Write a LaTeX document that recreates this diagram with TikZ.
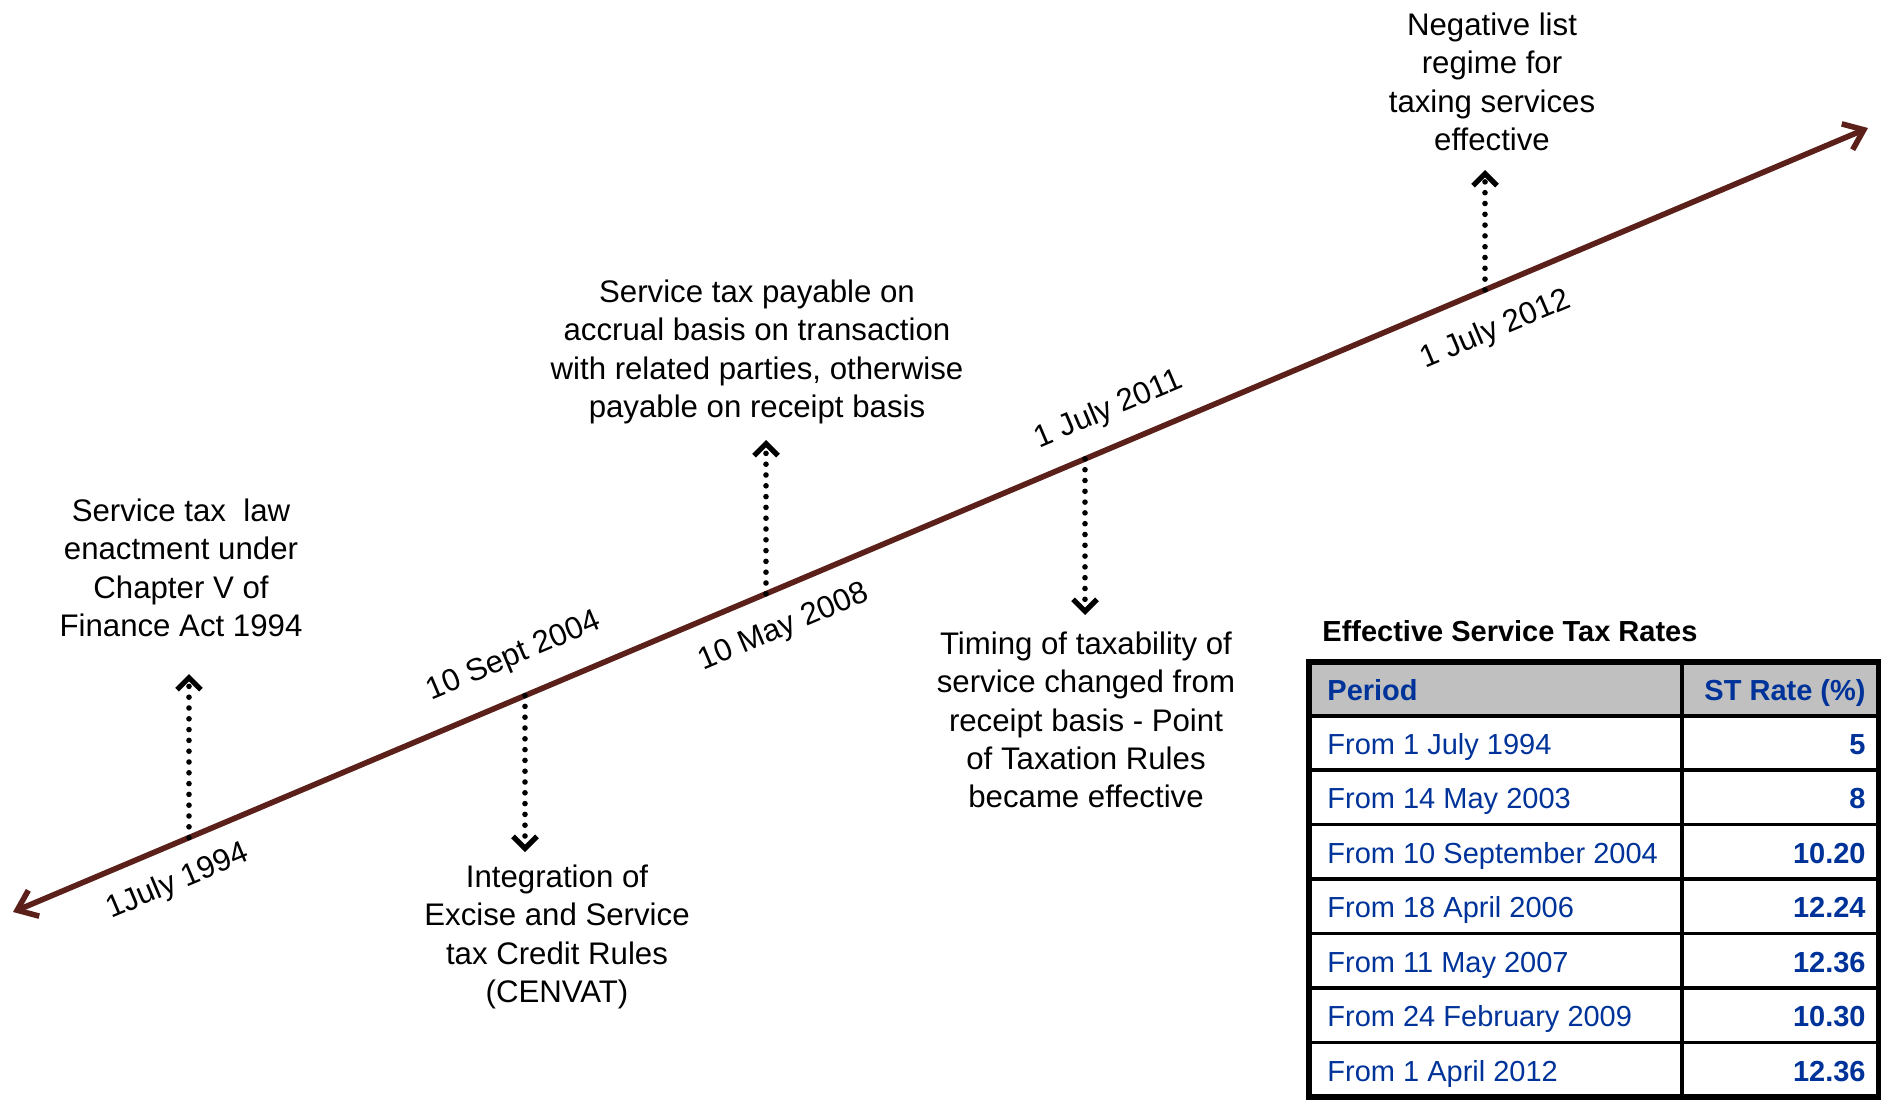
\documentclass[tikz,border=0pt]{standalone}
\usepackage{fontspec}
\setmainfont{Liberation Sans}
\usetikzlibrary{arrows.meta}
\definecolor{timebrown}{RGB}{92,32,26}
\definecolor{rateblue}{RGB}{0,51,153}
\definecolor{headgray}{RGB}{192,192,192}
\begin{document}
\begin{tikzpicture}[x=0.5pt,y=-0.5pt,
  timeline/.style={draw=timebrown,line width=2.8pt,
    {Straight Barb[length=9pt,width=14pt]}-{Straight Barb[length=9pt,width=14pt]}},
  pointer/.style={draw=black,line width=2.8pt,line cap=round,
    dash pattern=on 0pt off 5.4pt,
    -{Straight Barb[length=6pt,width=12pt,line width=2.6pt]}},
  event/.style={align=center,font=\fontsize{15.6}{19.2}\selectfont,inner sep=0pt},
  datelabel/.style={font=\fontsize{15.6}{19.2}\selectfont,rotate=22.9,inner sep=0pt},
  tabletitle/.style={font=\fontsize{14.5}{17}\selectfont\bfseries,anchor=base west,inner sep=0pt},
  periodcell/.style={font=\fontsize{14.5}{17}\selectfont,text=rateblue,anchor=base west,inner sep=0pt},
  ratecell/.style={font=\fontsize{14.5}{17}\selectfont\bfseries,text=rateblue,anchor=base east,inner sep=0pt},
  headcell/.style={font=\fontsize{14.5}{17}\selectfont\bfseries,text=rateblue,inner sep=0pt},
  rule/.style={draw=black,line width=1.7pt},
  frame/.style={draw=black,line width=3pt}
]
\useasboundingbox (0,0) rectangle (1881,1102);

% time axis
\coordinate (tl) at (13,912);
\coordinate (tr) at (1868,128);
\draw[timeline] (tl) -- (tr);

% points on the axis
\coordinate (p1) at (189,837.6);
\coordinate (p2) at (525,695.6);
\coordinate (p3) at (766,593.8);
\coordinate (p4) at (1085,458.9);
\coordinate (p5) at (1485,289.9);

% pointer tips
\coordinate (q1) at (189,674);
\coordinate (q2) at (525,852);
\coordinate (q3) at (766,440);
\coordinate (q4) at (1085,615);
\coordinate (q5) at (1485,170);

\draw[pointer] (p1) -- (q1);
\draw[pointer] (p2) -- (q2);
\draw[pointer] (p3) -- (q3);
\draw[pointer] (p4) -- (q4);
\draw[pointer] (p5) -- (q5);

% dates along the axis
\node[datelabel] (d1) at (178,882) {1July 1994};
\node[datelabel] (d2) at (514,657) {10 Sept 2004};
\node[datelabel] (d3) at (784,628) {10 May 2008};
\node[datelabel] (d4) at (1109,410) {1 July 2011};
\node[datelabel] (d5) at (1496,330) {1 July 2012};

% events
\node[event] (e1) at (181,568) {Service tax\ \ law\\enactment under\\Chapter V of\\Finance Act 1994};
\node[event] (e2) at (557,937) {Integration of\\Excise and Service\\tax Credit Rules\\(CENVAT)};
\node[event] (e3) at (757,352) {Service tax payable on\\accrual basis on transaction\\with related parties, otherwise\\payable on receipt basis};
\node[event] (e4) at (1086,720) {Timing of taxability of\\service changed from\\receipt basis - Point\\of Taxation Rules\\became effective};
\node[event] (e5) at (1492,82) {Negative list\\regime for\\taxing services\\effective};

% rate table
\node[tabletitle] (title) at (1322,641) {Effective Service Tax Rates};
\fill[headgray] (1309,662) rectangle (1879,716);
\foreach \y in {716,770,824.5,879,933.5,988,1042.5}
  \draw[rule] (1309,\y) -- (1879,\y);
\draw[rule] (1682,662) -- (1682,1097);
\draw[frame] (1309,662) rectangle (1879,1097);

\node[headcell,anchor=base west] (h1) at (1327,700) {Period};
\node[headcell,anchor=base east] (h2) at (1866,700) {ST Rate (\%)};

\node[periodcell] (r1a) at (1327,754) {From 1 July 1994};
\node[ratecell]   (r1b) at (1866,754) {5};
\node[periodcell] (r2a) at (1327,808.5) {From 14 May 2003};
\node[ratecell]   (r2b) at (1866,808.5) {8};
\node[periodcell] (r3a) at (1327,863) {From 10 September 2004};
\node[ratecell]   (r3b) at (1866,863) {10.20};
\node[periodcell] (r4a) at (1327,917.5) {From 18 April 2006};
\node[ratecell]   (r4b) at (1866,917.5) {12.24};
\node[periodcell] (r5a) at (1327,972) {From 11 May 2007};
\node[ratecell]   (r5b) at (1866,972) {12.36};
\node[periodcell] (r6a) at (1327,1026.5) {From 24 February 2009};
\node[ratecell]   (r6b) at (1866,1026.5) {10.30};
\node[periodcell] (r7a) at (1327,1081) {From 1 April 2012};
\node[ratecell]   (r7b) at (1866,1081) {12.36};
\end{tikzpicture}
\end{document}
